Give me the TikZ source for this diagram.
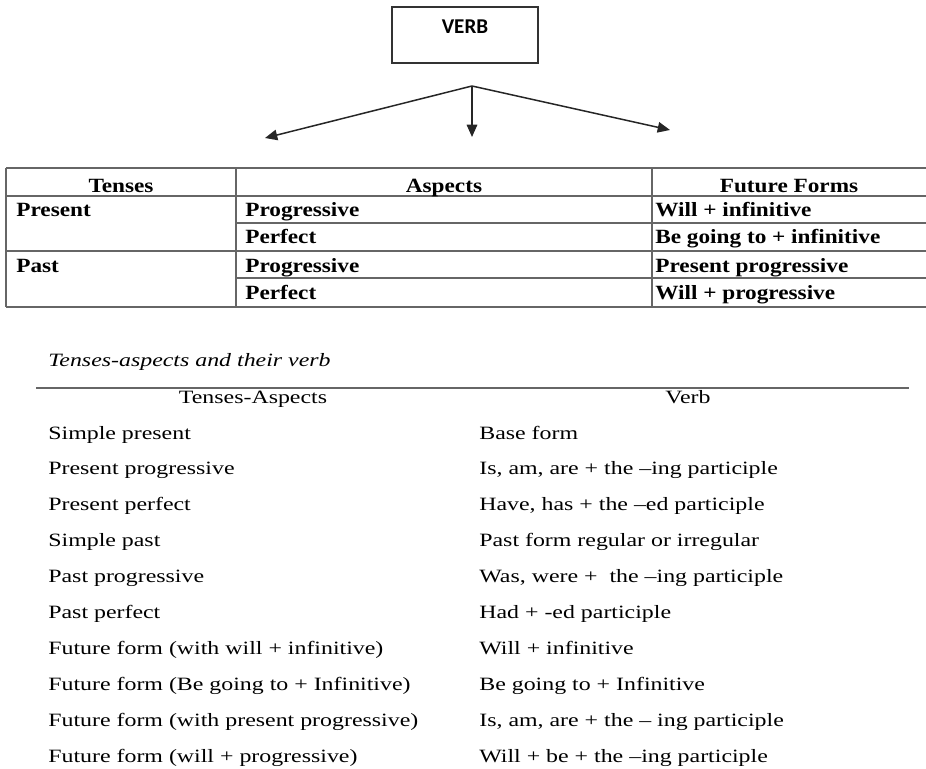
\documentclass[tikz,border=0pt]{standalone}
\usepackage{fontspec}
\setmainfont{Liberation Serif}
\newfontfamily\boxfont{Carlito}
\newfontfamily\wideserif[Ligatures=TeX,FakeStretch=1.27]{Liberation Serif}
\newfontfamily\boldserif[Ligatures=TeX,FakeStretch=1.15]{Liberation Serif Bold}
\usetikzlibrary{arrows.meta}

\begin{document}
\begin{tikzpicture}[x=0.02cm,y=-0.02cm]
\tikzset{
  every node/.style={inner sep=0pt},
  arr/.style={draw=black!85,line width=0.85pt,-{Triangle[length=7pt,width=6pt]}},
  rule/.style={draw=black!60,line width=0.6pt},
  hd/.style={anchor=base,font=\boldserif\fontsize{11.5}{13}\selectfont},
  cell/.style={anchor=base west,font=\boldserif\fontsize{11.5}{13}\selectfont},
  rw/.style={anchor=base west,font=\wideserif\fontsize{10.7}{13}\selectfont},
}
\useasboundingbox (0,0) rectangle (926,768);
% verb box and its arrows
\draw [black!80,line width=0.7pt] (392,7) rectangle (538,63);
\node (verb) [anchor=base,font=\boxfont\fontsize{12}{14}\selectfont\bfseries] at (465,33) {VERB};
\coordinate (apex) at (472,86);
\coordinate (tl) at (265,138);
\coordinate (tm) at (472,137);
\coordinate (tr) at (670,130);
\draw [arr] (apex) -- (tl);
\draw [arr] (apex) -- (tm);
\draw [arr] (apex) -- (tr);
% first table
\draw [rule,line width=1pt] (6,168) -- (926,168);
\draw [rule] (6,196) -- (926,196);
\draw [rule] (236,223) -- (926,223);
\draw [rule] (6,251) -- (926,251);
\draw [rule] (236,278) -- (926,278);
\draw [rule] (6,307) -- (926,307);
\draw [rule] (6,168) -- (6,307);
\draw [rule] (236,168) -- (236,307);
\draw [rule] (652,168) -- (652,307);
\node (tenses) [hd] at (121,192) {Tenses};
\node (aspects) [hd] at (444,192) {Aspects};
\node (future) [hd] at (789,192) {Future Forms};
\node (pres) [cell] at (16,216) {Present};
\node (past) [cell] at (16,272) {Past};
\node (prog1) [cell] at (245,216) {Progressive};
\node (perf1) [cell] at (245,243) {Perfect};
\node (prog2) [cell] at (245,272) {Progressive};
\node (perf2) [cell] at (245,299) {Perfect};
\node (fut1) [cell] at (655,216) {Will + infinitive};
\node (fut2) [cell] at (655,243) {Be going to + infinitive};
\node (fut3) [cell] at (655,272) {Present progressive};
\node (fut4) [cell] at (655,299) {Will + progressive};
% second table
\node (cap) [anchor=base west,font=\wideserif\fontsize{10.7}{12}\selectfont\itshape] at (48,366) {Tenses-aspects and their verb};
\draw [rule,line width=0.8pt] (36,388) -- (909,388);
\node (hta) [anchor=base,font=\wideserif\fontsize{10.7}{13}\selectfont] at (253,403) {Tenses-Aspects};
\node (hvb) [anchor=base,font=\wideserif\fontsize{10.7}{13}\selectfont] at (688,403) {Verb};
\foreach \i/\a/\b in {0/Simple present/Base form,
  1/Present progressive/{Is, am, are + the --ing participle},
  2/Present perfect/{Have, has + the --ed participle},
  3/Simple past/Past form regular or irregular,
  4/Past progressive/{Was, were +\ \ the --ing participle},
  5/Past perfect/Had + -ed participle,
  6/Future form (with will + infinitive)/Will + infinitive,
  7/Future form (Be going to + Infinitive)/Be going to + Infinitive,
  8/Future form (with present progressive)/{Is, am, are + the -- ing participle},
  9/Future form (will + progressive)/{Will + be + the --ing participle}}
{
  \node (ta\i) [rw] at (48,439+35.9*\i) {\a};
  \node (vb\i) [rw] at (479,439+35.9*\i) {\b};
}
\end{tikzpicture}
\end{document}
